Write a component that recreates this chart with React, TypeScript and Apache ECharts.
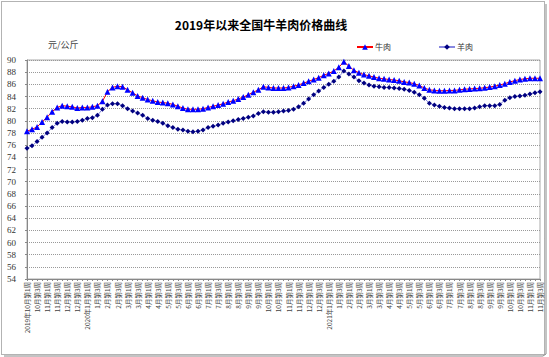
import React, { useEffect, useRef } from "react";
import * as echarts from "echarts";

const title = "2019年以来全国牛羊肉价格曲线";
const unit = "元/公斤";
const seriesNames = ["牛肉", "羊肉"];

// weekly periods: 2019年10月第1周 ... 2021年11月第3周 (4 weeks per month)
const startYear = 2019;
const startMonth = 10;
const weeksPerMonth = [1, 2, 3, 4];

const beef = [
  78.3, 78.6, 79.0, 79.8, 80.6, 81.5, 82.2, 82.5, 82.4, 82.3,
  82.1, 82.2, 82.2, 82.3, 82.5, 83.2, 84.8, 85.5, 85.7, 85.6,
  85.1, 84.6, 84.1, 83.8, 83.5, 83.3, 83.1, 83.0, 82.9, 82.7,
  82.4, 82.1, 81.9, 81.9, 81.9, 82.0, 82.2, 82.4, 82.6, 82.8,
  83.1, 83.3, 83.6, 83.9, 84.3, 84.7, 85.1, 85.6, 85.5, 85.4,
  85.4, 85.4, 85.5, 85.7, 85.9, 86.2, 86.5, 86.8, 87.1, 87.5,
  87.8, 88.2, 88.8, 89.7, 89.0, 88.3, 87.9, 87.6, 87.4, 87.2,
  87.0, 86.9, 86.8, 86.7, 86.6, 86.4, 86.3, 86.1, 85.8, 85.4,
  85.1, 85.0, 84.95, 84.95, 85.0, 85.0, 85.1, 85.2, 85.25, 85.3,
  85.35, 85.45, 85.55, 85.7, 85.9, 86.1, 86.4, 86.6, 86.8, 86.9,
  87.0, 87.0, 87.0,
];

const lamb = [
  75.5, 75.9, 76.6, 77.3, 78.0, 78.9, 79.6, 79.9, 79.8, 79.8,
  79.9, 80.1, 80.4, 80.5, 80.9, 81.9, 82.6, 82.8, 82.8, 82.5,
  82.0, 81.6, 81.3, 80.9, 80.4, 80.1, 79.9, 79.6, 79.2, 78.9,
  78.6, 78.5, 78.3, 78.2, 78.3, 78.5, 78.9, 79.1, 79.3, 79.6,
  79.8, 80.0, 80.2, 80.4, 80.6, 80.8, 81.2, 81.5, 81.4, 81.4,
  81.5, 81.6, 81.7, 81.9, 82.3, 82.9, 83.6, 84.3, 84.9, 85.5,
  86.0, 86.5, 87.2, 88.2, 87.7, 87.2, 86.6, 86.2, 85.9, 85.7,
  85.6, 85.5, 85.5, 85.4, 85.3, 85.2, 85.0, 84.7, 84.3, 83.7,
  82.9, 82.6, 82.4, 82.2, 82.1, 82.0, 82.0, 82.0, 82.0, 82.1,
  82.3, 82.5, 82.5, 82.5, 82.7, 83.4, 83.8, 84.0, 84.1, 84.2,
  84.4, 84.6, 84.8,
];

const yMin = 54;
const yMax = 90;
const yStep = 2;

function buildCategories(n: number): string[] {
  const out: string[] = [];
  for (let i = 0; i < n; i++) {
    const monthOffset = startMonth - 1 + Math.floor(i / weeksPerMonth.length);
    const year = startYear + Math.floor(monthOffset / 12);
    const month = (monthOffset % 12) + 1;
    const week = weeksPerMonth[i % weeksPerMonth.length];
    const withYear = i === 0 || (month === 1 && week === 1);
    out.push(`${withYear ? year + "年" : ""}${month}月第${week}周`);
  }
  return out;
}

const categories = buildCategories(beef.length);

export default function App() {
  const ref = useRef<HTMLDivElement>(null);
  useEffect(() => {
    if (!ref.current) return;
    const chart = echarts.init(ref.current, undefined, { renderer: "svg" });
    const cjk = "'Noto Sans CJK SC', sans-serif";
    chart.setOption({
      animation: false,
      backgroundColor: "#ffffff",
      title: {
        text: title,
        left: 256,
        textAlign: "center",
        top: 13,
        textStyle: { fontSize: 12, fontWeight: "bold", color: "#000", fontFamily: cjk },
      },
      legend: {
        data: seriesNames,
        left: 351,
        top: 38,
        itemWidth: 16,
        itemHeight: 7,
        itemGap: 47,
        textStyle: { fontSize: 8, color: "#333", fontFamily: cjk, padding: [0, 0, 0, -3] },
      },
      graphic: [
        {
          type: "rect",
          shape: { x: 1.5, y: 1.5, width: 543, height: 353 },
          style: { fill: "none", stroke: "#666", lineWidth: 1, lineDash: [1, 1] },
          silent: true,
        },
        {
          type: "polyline",
          shape: { points: [[546, 4], [546, 354], [543, 356], [4, 356]] },
          style: { fill: "none", stroke: "#888", lineWidth: 1 },
          silent: true,
        },
        {
          type: "text",
          x: 48,
          y: 40,
          style: { text: unit, fontSize: 9, fill: "#444", fontFamily: cjk },
          silent: true,
        },
      ],
      grid: {
        left: 27,
        right: 9,
        top: 60,
        bottom: 78,
        show: true,
        borderColor: "#aaa",
        borderWidth: 1,
      },
      xAxis: {
        type: "category",
        data: categories,
        boundaryGap: false,
        axisLine: { lineStyle: { color: "#888", width: 1 } },
        axisTick: { show: true, interval: 0, length: 2, lineStyle: { color: "#888" } },
        axisLabel: {
          interval: 1,
          rotate: 90,
          fontSize: 6.5,
          color: "#444",
          margin: 3,
          fontFamily: cjk,
        },
        splitLine: { show: false },
      },
      yAxis: {
        type: "value",
        min: yMin,
        max: yMax,
        interval: yStep,
        axisLine: { show: true, lineStyle: { color: "#888", width: 1 } },
        axisTick: { show: true, length: 2, lineStyle: { color: "#888" } },
        axisLabel: {
          fontSize: 9,
          color: "#333",
          margin: 11,
          fontFamily: "'Liberation Serif', serif",
        },
        splitLine: { show: true, lineStyle: { color: "#999", type: "dotted", width: 1 } },
      },
      series: [
        {
          name: seriesNames[0],
          type: "line",
          data: beef,
          symbol: "triangle",
          symbolSize: 6,
          showAllSymbol: true,
          lineStyle: { color: "#ff0000", width: 1 },
          itemStyle: { color: "#0000ff" },
          z: 3,
        },
        {
          name: seriesNames[1],
          type: "line",
          data: lamb,
          symbol: "diamond",
          symbolSize: 5,
          showAllSymbol: true,
          lineStyle: { color: "#8888e0", width: 1 },
          itemStyle: { color: "#000080" },
          z: 2,
        },
      ],
    });
    return () => chart.dispose();
  }, []);
  return (
    <div
      ref={ref}
      style={{ position: "fixed", left: 0, top: 0, width: 549, height: 357 }}
    />
  );
}
